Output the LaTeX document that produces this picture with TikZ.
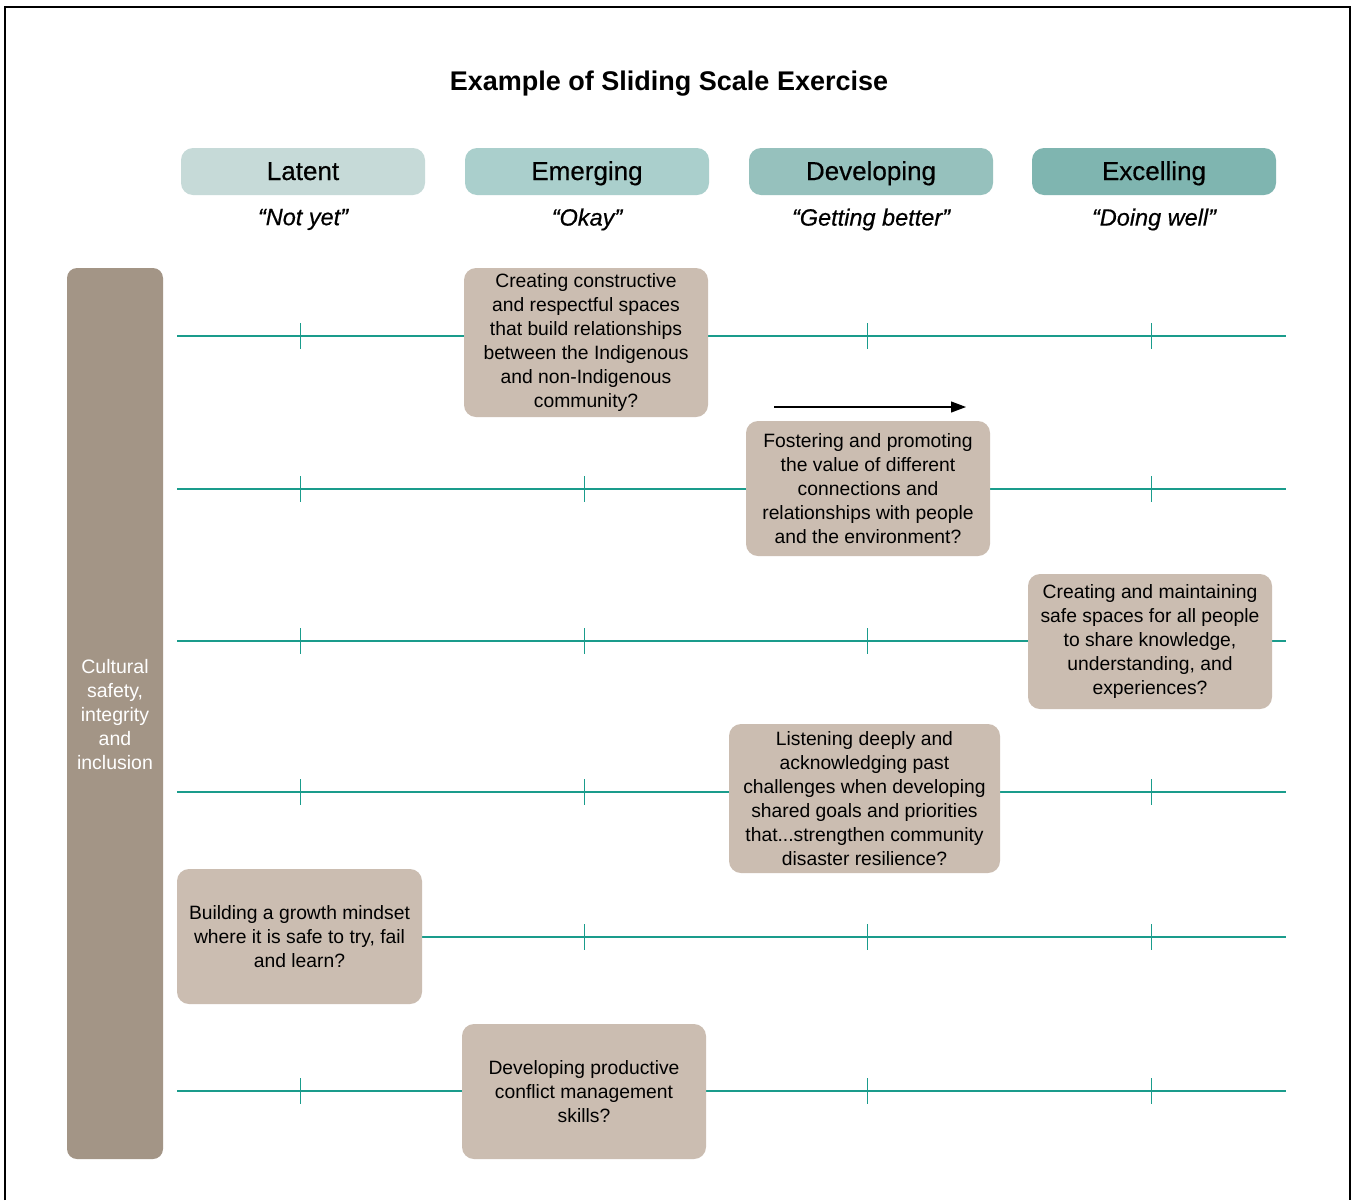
\documentclass[tikz,border=0pt]{standalone}
\usepackage{fontspec}
\setmainfont{Liberation Sans}
\newfontfamily\medfont[FakeBold=0.5]{Liberation Sans}
\usetikzlibrary{arrows.meta}
\definecolor{hdA}{HTML}{C6DAD8}
\definecolor{hdB}{HTML}{AACFCC}
\definecolor{hdC}{HTML}{96C1BD}
\definecolor{hdD}{HTML}{7FB5B0}
\definecolor{barc}{HTML}{A39586}
\definecolor{boxc}{HTML}{CBBDB1}
\definecolor{tealc}{HTML}{1A9C8C}
\tikzset{
  hdr/.style={rounded corners=12pt, minimum width=244pt, minimum height=47pt, inner sep=0pt, text height=21pt, text depth=4pt, font=\medfont\fontsize{26}{30}\selectfont},
  sub/.style={font=\medfont\fontsize{23.5}{28}\selectfont\itshape, inner sep=0pt},
  qbox/.style={fill=boxc, rounded corners=12pt, align=center, inner sep=0pt, font=\fontsize{19.3}{24}\selectfont},
  scaleline/.style={draw=tealc, line width=1.3pt},
  tickmark/.style={draw=tealc, line width=1pt}
}
\begin{document}
\begin{tikzpicture}[x=1pt,y=-1pt]
\useasboundingbox (0,0) rectangle (1358,1200);
\fill[white] (0,0) rectangle (1358,1200);
\draw[line width=2.8pt] (5,1200) -- (5,7) -- (1350,7) -- (1350,1200);
\node[font=\fontsize{27}{31}\selectfont\bfseries] (title) at (669,84) {Example of Sliding Scale Exercise};
% headers
\node[hdr, fill=hdA] (h1) at (303,171.5) {Latent};
\node[hdr, fill=hdB] (h2) at (587,171.5) {Emerging};
\node[hdr, fill=hdC] (h3) at (871,171.5) {Developing};
\node[hdr, fill=hdD] (h4) at (1154,171.5) {Excelling};
\node[sub] (s1) at (303,219.5) {“Not yet”};
\node[sub] (s2) at (587,219.5) {“Okay”};
\node[sub] (s3) at (871,219.5) {“Getting better”};
\node[sub] (s4) at (1154,219.5) {“Doing well”};
% left bar
\node[fill=barc, rounded corners=10pt, minimum width=96pt, minimum height=891pt, inner sep=0pt] (bar) at (115,713.5) {};
\node[text=white, align=center, font=\fontsize{19.5}{24}\selectfont] (barlabel) at (115,715) {Cultural\\safety,\\integrity\\and\\inclusion};
% scale lines
\foreach \r/\y in {1/336,2/489,3/641,4/792,5/937,6/1091}{
  \coordinate (L\r) at (177,\y);
  \coordinate (R\r) at (1286,\y);
  \draw[scaleline] (L\r) -- (R\r);
  \foreach \x in {300,584,867,1151}{
    \draw[tickmark] (\x,\y-13) -- (\x,\y+13);
  }
}
% question boxes
\node[qbox, minimum width=244pt, minimum height=149pt] (q1) at (586,342.5) {Creating constructive\\and respectful spaces\\that build relationships\\between the Indigenous\\and non-Indigenous\\community?};
\node[qbox, minimum width=244pt, minimum height=135pt] (q2) at (868,488.5) {Fostering and promoting\\the value of different\\connections and\\relationships with people\\and the environment?};
\node[qbox, minimum width=244pt, minimum height=135pt] (q3) at (1150,641.5) {Creating and maintaining\\safe spaces for all people\\to share knowledge,\\understanding, and\\experiences?};
\node[qbox, minimum width=271pt, minimum height=149pt] (q4) at (864.5,798.5) {Listening deeply and\\acknowledging past\\challenges when developing\\shared goals and priorities\\that...strengthen community\\disaster resilience?};
\node[qbox, minimum width=245pt, minimum height=135pt] (q5) at (299.5,936.5) {Building a growth mindset\\where it is safe to try, fail\\and learn?};
\node[qbox, minimum width=244pt, minimum height=135pt] (q6) at (584,1091.5) {Developing productive\\conflict management\\skills?};
% arrow
\coordinate (a1) at (774,407);
\coordinate (a2) at (966,407);
\draw[line width=1.2pt, -{Triangle[length=15pt,width=11pt]}] (a1) -- (a2);
\end{tikzpicture}
\end{document}
